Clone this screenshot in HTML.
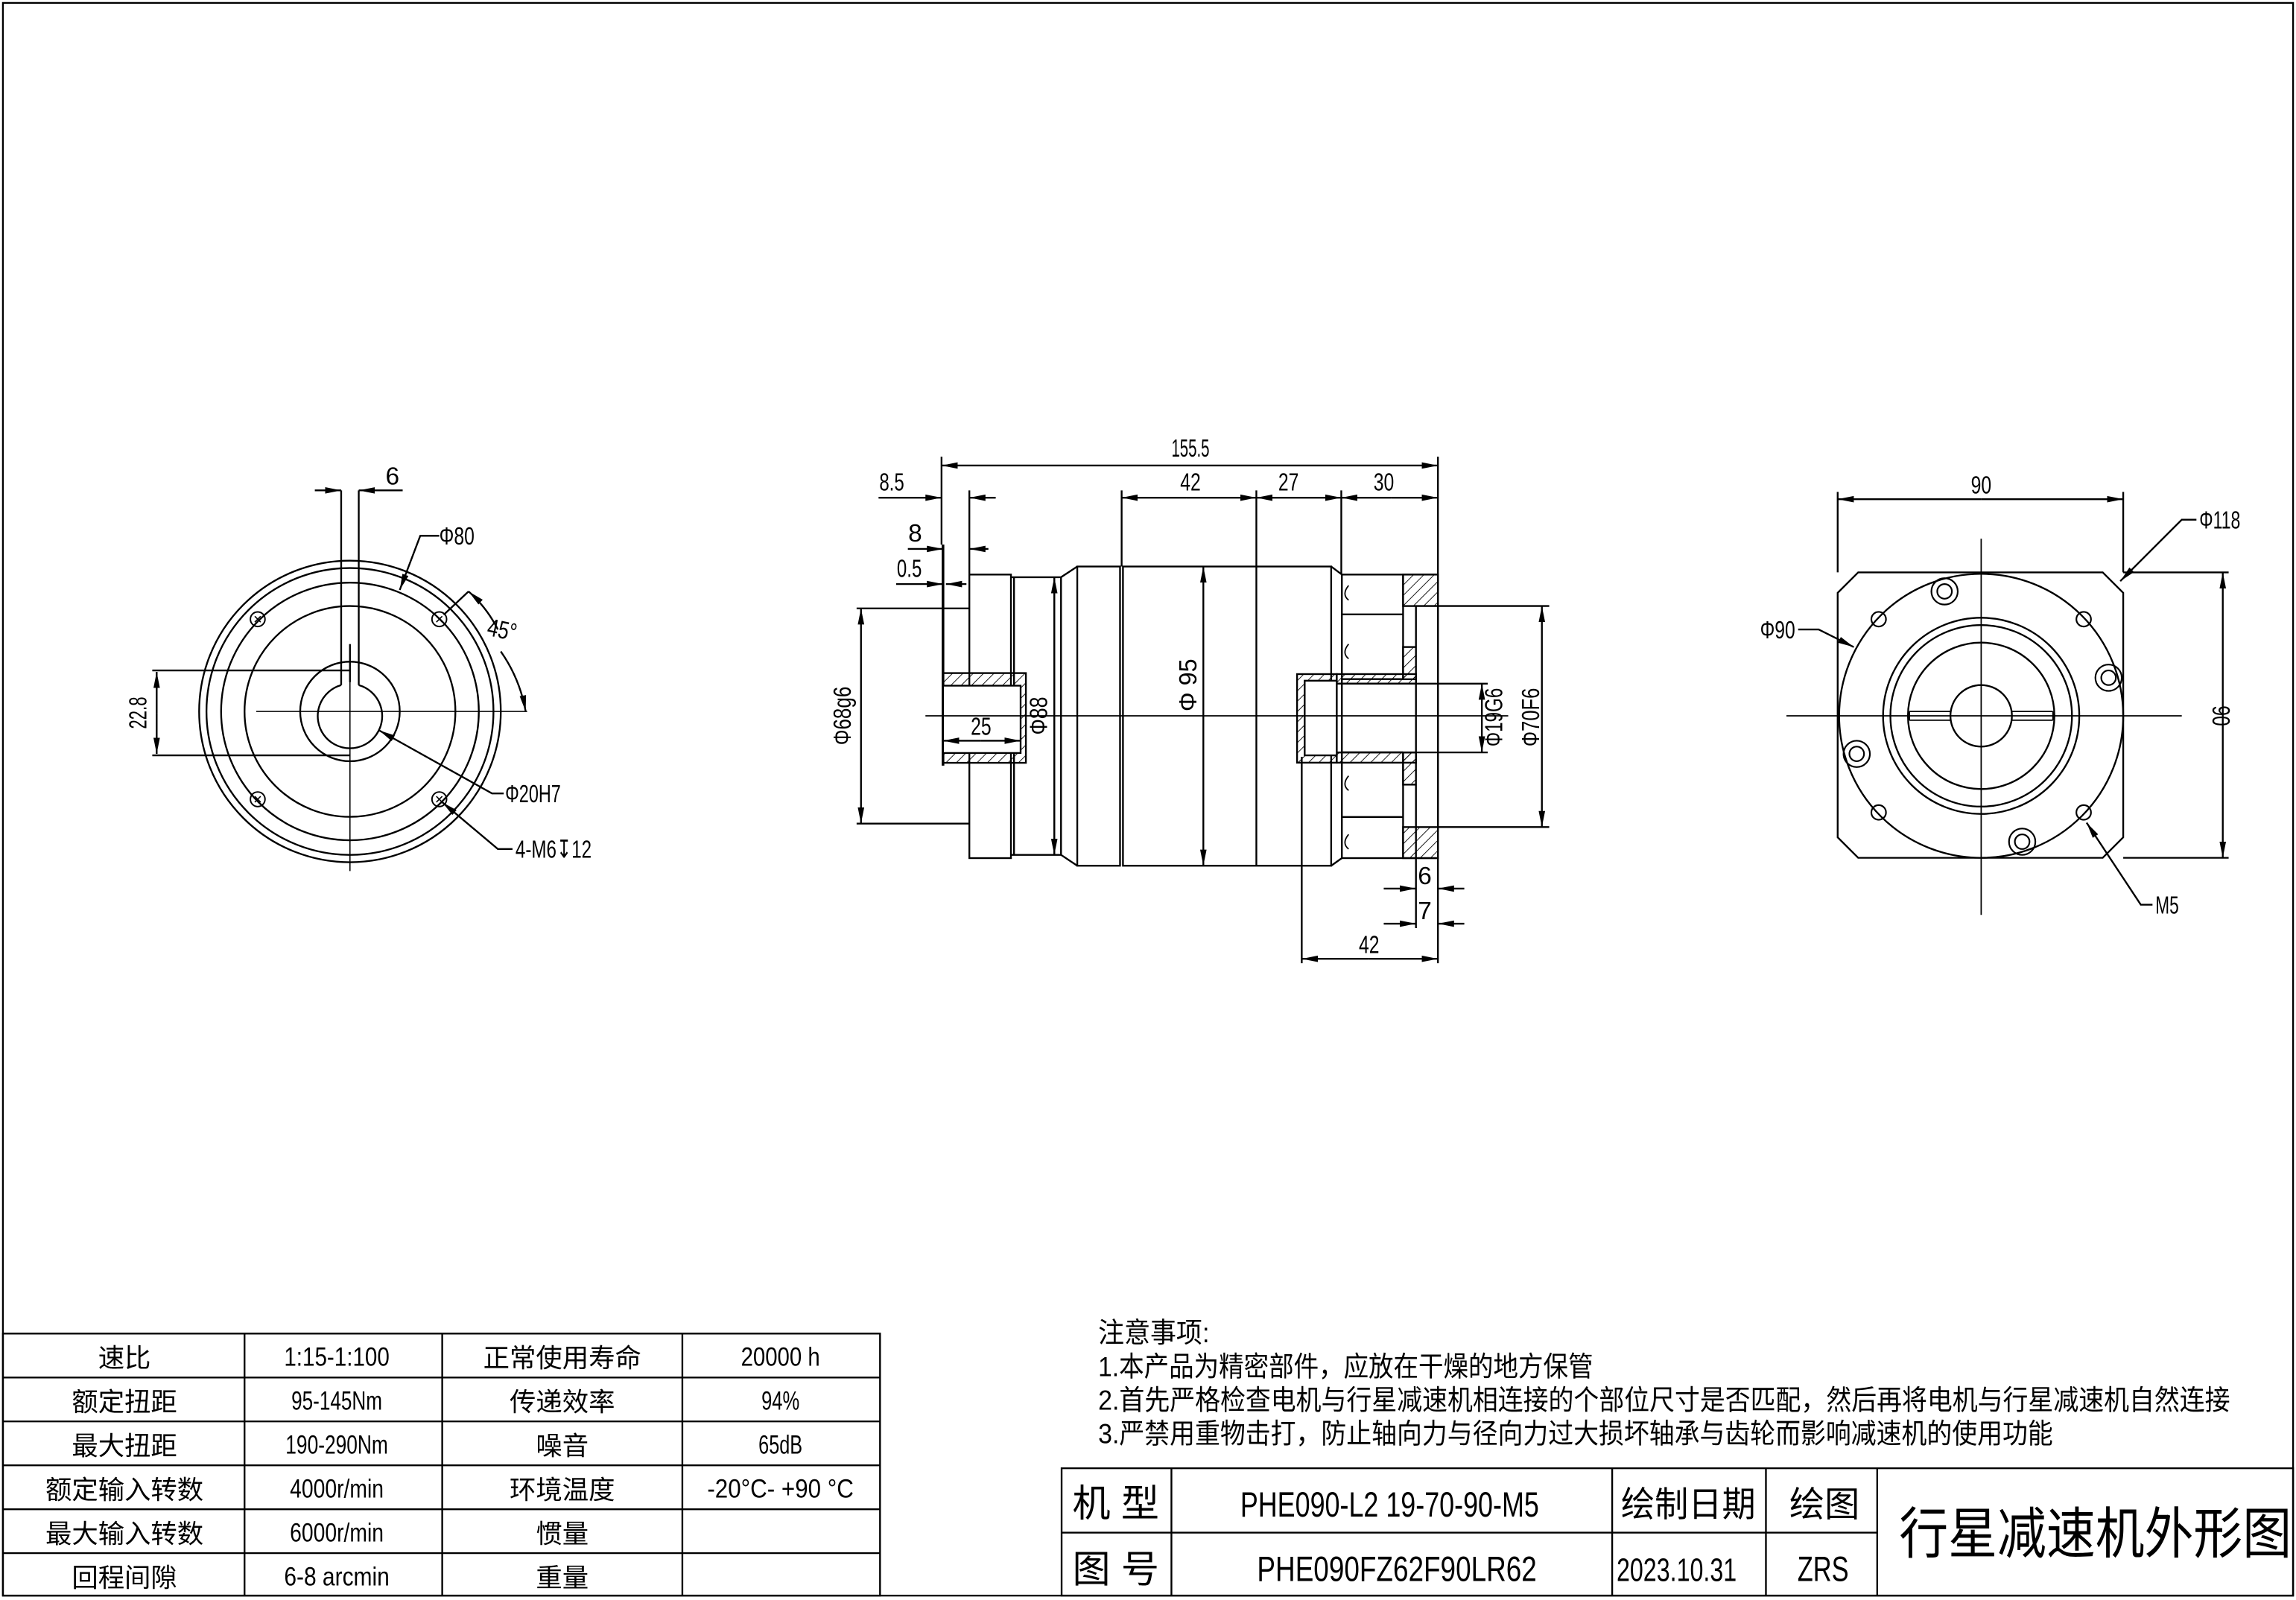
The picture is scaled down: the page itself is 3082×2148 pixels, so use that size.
<!DOCTYPE html>
<html><head><meta charset="utf-8"><style>
html,body{margin:0;padding:0;background:#fff}
svg{display:block}
text{font-family:"Liberation Sans","Noto Sans CJK SC",sans-serif;fill:#000}
</style></head><body>
<svg width="3082" height="2148" viewBox="0 0 1568 1093" preserveAspectRatio="none" xmlns="http://www.w3.org/2000/svg">
<defs>
<marker id="a" markerUnits="userSpaceOnUse" markerWidth="12" markerHeight="6" refX="11" refY="3" orient="auto-start-reverse"><path d="M0,0.8L11,3L0,5.2z" fill="#000"/></marker>
<pattern id="h" patternUnits="userSpaceOnUse" width="5" height="5" patternTransform="rotate(45)"><line x1="0" y1="0" x2="0" y2="5" stroke="#000" stroke-width="0.9"/></pattern>
</defs>
<g fill="none" stroke="#000" stroke-width="1.2">
<rect x="2" y="2" width="1564" height="1088"/>
<circle cx="239" cy="486" r="103"/><circle cx="239" cy="486" r="98"/><circle cx="239" cy="486" r="88"/><circle cx="239" cy="486" r="72"/>
<circle cx="239" cy="486" r="34"/>
<path d="M245,468 A22,22 0 1,1 233,468"/>
<path d="M233,335V468M245,335V468M239,440V466"/>
<g stroke-width="1"><circle cx="176" cy="423" r="5"/><circle cx="300" cy="423" r="5"/><circle cx="176" cy="546" r="5"/><circle cx="300" cy="546" r="5"/></g>
<path d="M174,421l4,4m0-4l-4,4M298,421l4,4m0-4l-4,4M174,544l4,4m0-4l-4,4M298,544l4,4m0-4l-4,4" stroke-width="0.8"/>
<path d="M175,486H360M239,440V595" stroke-width="0.8"/>
<path d="M215,335H233" marker-end="url(#a)"/><path d="M275,335H245" marker-end="url(#a)"/>
<path d="M104,458H239M104,516H239"/><path d="M107,487V459" marker-end="url(#a)"/><path d="M107,487V515" marker-end="url(#a)"/>
<path d="M300,366H287L273,403" marker-end="url(#a)"/>
<path d="M303,420L320,404"/><path d="M340,430A88,88 0 0 0 320,404" marker-end="url(#a)"/><path d="M342,445A103,103 0 0 1 359,486" marker-end="url(#a)"/>
<path d="M344,542H336L259,499" marker-end="url(#a)"/>
<path d="M350,580H340L302,548" marker-end="url(#a)"/>
<path d="M644,372V523" stroke-width="1.8"/>
<rect x="662" y="392.5" width="28.4" height="193.7"/>
<path d="M690.4,394.3H724.6L735.7,387M690.4,584H724.6L735.7,591.4M692.5,394.3V584M720,394.3V584M724.6,394.3V584"/>
<rect x="735.7" y="387" width="29.2" height="204.4"/>
<rect x="766.9" y="387" width="142.2" height="204.4"/>
<path d="M858,387V591.4M909.1,387L916.4,392.5M909.1,591.4L916.4,586.2"/>
<rect x="916.4" y="392.5" width="65.6" height="193.7"/>
<path d="M916.4,419.7H958.2M916.4,463.9H958.2M916.4,513.9H958.2M916.4,558.1H958.2M958.2,392.5V463.9M958.2,513.9V586.2"/>
<path d="M921,400q-5,6 0,10M921,440q-5,6 0,10M921,530q-5,6 0,10M921,570q-5,6 0,10" stroke-width="0.9"/>
<rect x="958.2" y="392.5" width="23.8" height="21.5" fill="url(#h)"/>
<rect x="958.2" y="565" width="23.8" height="21.2" fill="url(#h)"/>
<rect x="958.2" y="442" width="8.8" height="22" fill="url(#h)"/>
<rect x="958.2" y="514" width="8.8" height="22" fill="url(#h)"/>
<rect x="967" y="414" width="15" height="151" fill="#fff"/>
<rect x="912.9" y="460.5" width="54.1" height="6.5" fill="url(#h)"/>
<rect x="912.9" y="514" width="54.1" height="7" fill="url(#h)"/>
<rect x="885.8" y="460.5" width="27.1" height="60.5" fill="url(#h)"/>
<rect x="891" y="465" width="21.9" height="51" fill="#fff"/>
<path d="M912.9,467H1016M912.9,514H1016M982,414H1058M982,565H1058"/>
<rect x="644" y="459.8" width="56.6" height="61.3" fill="url(#h)"/>
<rect x="644" y="468.4" width="53" height="46" fill="#fff"/>
<path d="M632,489H1030" stroke-width="0.9"/>
<path d="M643,312V372M982,312V392M766,335V387M858,335V387M916,335V392M662,335V392"/>
<path d="M813,318H643" marker-end="url(#a)"/><path d="M813,318H982" marker-end="url(#a)"/>
<path d="M810,340H766" marker-end="url(#a)"/><path d="M810,340H858" marker-end="url(#a)"/>
<path d="M885,340H858" marker-end="url(#a)"/><path d="M885,340H916" marker-end="url(#a)"/>
<path d="M950,340H916" marker-end="url(#a)"/><path d="M950,340H982" marker-end="url(#a)"/>
<path d="M600,340H643" marker-end="url(#a)"/><path d="M680,340H662" marker-end="url(#a)"/>
<path d="M620,375H644" marker-end="url(#a)"/><path d="M675,375H662" marker-end="url(#a)"/>
<path d="M612,399H644" marker-end="url(#a)"/><path d="M660,399H646" marker-end="url(#a)"/>
<path d="M585,415.6H662M585,562.6H662"/>
<path d="M588,489V415.6" marker-end="url(#a)"/><path d="M588,489V562.6" marker-end="url(#a)"/>
<path d="M720,489V394.3" marker-end="url(#a)"/><path d="M720,489V584" marker-end="url(#a)"/>
<path d="M821.8,489V387" marker-end="url(#a)"/><path d="M821.8,489V591.4" marker-end="url(#a)"/>
<path d="M670,506H644" marker-end="url(#a)"/><path d="M670,506H697" marker-end="url(#a)"/>
<path d="M1012,490V467" marker-end="url(#a)"/><path d="M1012,490V514" marker-end="url(#a)"/>
<path d="M1053,490V414" marker-end="url(#a)"/><path d="M1053,490V565" marker-end="url(#a)"/>
<path d="M889,517V658M982,586V658M967,565V634"/>
<path d="M935,655H889" marker-end="url(#a)"/><path d="M935,655H982" marker-end="url(#a)"/>
<path d="M945,607H967" marker-end="url(#a)"/><path d="M1000,607H982" marker-end="url(#a)"/>
<path d="M945,631H967" marker-end="url(#a)"/><path d="M1000,631H982" marker-end="url(#a)"/>
<path d="M1269,391H1436L1450,405V572L1436,586H1269L1255,572V405Z"/>
<circle cx="1353" cy="489" r="97"/>
<circle cx="1353" cy="489" r="67"/><circle cx="1353" cy="489" r="62"/><circle cx="1353" cy="489" r="50"/>
<circle cx="1353" cy="489" r="21"/>
<path d="M1304,486H1332M1374,486H1402M1304,492H1332M1374,492H1402M1304,486V492M1402,486V492" stroke-width="0.9"/>
<g stroke-width="1.1"><circle cx="1283" cy="423" r="5"/><circle cx="1423" cy="423" r="5"/><circle cx="1283" cy="555" r="5"/><circle cx="1423" cy="555" r="5"/>
<circle cx="1328" cy="404" r="9"/><circle cx="1328" cy="404" r="5"/>
<circle cx="1440" cy="463" r="9"/><circle cx="1440" cy="463" r="5"/>
<circle cx="1268" cy="515" r="9"/><circle cx="1268" cy="515" r="5"/>
<circle cx="1381" cy="575" r="9"/><circle cx="1381" cy="575" r="5"/></g>
<path d="M1220,489H1490M1353,368V625" stroke-width="0.9"/>
<path d="M1255,336V391M1450,336V391M1450,391H1522M1450,586H1522"/>
<path d="M1353,341H1255" marker-end="url(#a)"/><path d="M1353,341H1450" marker-end="url(#a)"/>
<path d="M1518,489V391" marker-end="url(#a)"/><path d="M1518,489V586" marker-end="url(#a)"/>
<path d="M1500,355H1490L1448,397" marker-end="url(#a)"/>
<path d="M1228,430H1242L1266,442" marker-end="url(#a)"/>
<path d="M1470,618H1462L1425,562" marker-end="url(#a)"/>
<rect x="2" y="911" width="599" height="179"/>
<path d="M2,941H601M2,971H601M2,1001H601M2,1031H601M2,1061H601M167,911V1090M302,911V1090M466,911V1090"/>
<rect x="725" y="1003" width="841" height="87"/>
<path d="M725,1047H1282M800,1003V1090M1101,1003V1090M1206,1003V1090M1282,1003V1090"/>
</g>
<g font-size="17" lengthAdjust="spacingAndGlyphs">
<text x="268" y="331" text-anchor="middle">6</text>
<text x="300" y="372" textLength="24" lengthAdjust="spacingAndGlyphs">Φ80</text>
<text x="343" y="436" transform="rotate(12 343 430)" text-anchor="middle" textLength="20" lengthAdjust="spacingAndGlyphs">45°</text>
<text x="345" y="548" textLength="38" lengthAdjust="spacingAndGlyphs">Φ20H7</text>
<text x="352" y="586" textLength="52" lengthAdjust="spacingAndGlyphs">4-M6↧12</text>
<text transform="translate(100,487) rotate(-90)" text-anchor="middle" textLength="22" lengthAdjust="spacingAndGlyphs">22.8</text>
<text x="813" y="312" text-anchor="middle" textLength="26" lengthAdjust="spacingAndGlyphs">155.5</text>
<text x="813" y="335" text-anchor="middle" textLength="14" lengthAdjust="spacingAndGlyphs">42</text>
<text x="880" y="335" text-anchor="middle" textLength="14" lengthAdjust="spacingAndGlyphs">27</text>
<text x="945" y="335" text-anchor="middle" textLength="14" lengthAdjust="spacingAndGlyphs">30</text>
<text x="609" y="335" text-anchor="middle" textLength="17" lengthAdjust="spacingAndGlyphs">8.5</text>
<text x="625" y="370" text-anchor="middle">8</text>
<text x="621" y="394" text-anchor="middle" textLength="17" lengthAdjust="spacingAndGlyphs">0.5</text>
<text transform="translate(581,489) rotate(-90)" text-anchor="middle" textLength="40" lengthAdjust="spacingAndGlyphs">Φ68g6</text>
<text x="670" y="502" text-anchor="middle" textLength="14" lengthAdjust="spacingAndGlyphs">25</text>
<text transform="translate(715,489) rotate(-90)" text-anchor="middle" textLength="26" lengthAdjust="spacingAndGlyphs">Φ88</text>
<text transform="translate(817,468) rotate(-90)" text-anchor="middle" textLength="36" lengthAdjust="spacingAndGlyphs">Φ 95</text>
<text transform="translate(1026,490) rotate(-90)" text-anchor="middle" textLength="40" lengthAdjust="spacingAndGlyphs">Φ19G6</text>
<text transform="translate(1051,490) rotate(-90)" text-anchor="middle" textLength="40" lengthAdjust="spacingAndGlyphs">Φ70F6</text>
<text x="973" y="604" text-anchor="middle">6</text>
<text x="973" y="628" text-anchor="middle">7</text>
<text x="935" y="651" text-anchor="middle" textLength="14" lengthAdjust="spacingAndGlyphs">42</text>
<text x="1353" y="337" text-anchor="middle" textLength="14" lengthAdjust="spacingAndGlyphs">90</text>
<text transform="translate(1511,489) rotate(90)" text-anchor="middle" textLength="14" lengthAdjust="spacingAndGlyphs">90</text>
<text x="1502" y="361" textLength="28" lengthAdjust="spacingAndGlyphs">Φ118</text>
<text x="1202" y="436" textLength="24" lengthAdjust="spacingAndGlyphs">Φ90</text>
<text x="1472" y="624" textLength="16" lengthAdjust="spacingAndGlyphs">M5</text>
</g>
<g font-size="18" text-anchor="middle">
<text x="85" y="934">速比</text><text x="230" y="933" textLength="72" lengthAdjust="spacingAndGlyphs">1:15-1:100</text><text x="384" y="934">正常使用寿命</text><text x="533" y="933" textLength="54" lengthAdjust="spacingAndGlyphs">20000 h</text>
<text x="85" y="964">额定扭距</text><text x="230" y="963" textLength="62" lengthAdjust="spacingAndGlyphs">95-145Nm</text><text x="384" y="964">传递效率</text><text x="533" y="963" textLength="26" lengthAdjust="spacingAndGlyphs">94%</text>
<text x="85" y="994">最大扭距</text><text x="230" y="993" textLength="70" lengthAdjust="spacingAndGlyphs">190-290Nm</text><text x="384" y="994">噪音</text><text x="533" y="993" textLength="30" lengthAdjust="spacingAndGlyphs">65dB</text>
<text x="85" y="1024">额定输入转数</text><text x="230" y="1023" textLength="64" lengthAdjust="spacingAndGlyphs">4000r/min</text><text x="384" y="1024">环境温度</text><text x="533" y="1023" textLength="100" lengthAdjust="spacingAndGlyphs">-20°C- +90 °C</text>
<text x="85" y="1054">最大输入转数</text><text x="230" y="1053" textLength="64" lengthAdjust="spacingAndGlyphs">6000r/min</text><text x="384" y="1054">惯量</text>
<text x="85" y="1084">回程间隙</text><text x="230" y="1083" textLength="72" lengthAdjust="spacingAndGlyphs">6-8 arcmin</text><text x="384" y="1084">重量</text>
</g>
<g font-size="19">
<text x="750" y="917" textLength="76" lengthAdjust="spacingAndGlyphs">注意事项:</text>
<text x="750" y="940" textLength="338" lengthAdjust="spacingAndGlyphs">1.本产品为精密部件，应放在干燥的地方保管</text>
<text x="750" y="963" textLength="773" lengthAdjust="spacingAndGlyphs">2.首先严格检查电机与行星减速机相连接的个部位尺寸是否匹配，然后再将电机与行星减速机自然连接</text>
<text x="750" y="986" textLength="652" lengthAdjust="spacingAndGlyphs">3.严禁用重物击打，防止轴向力与径向力过大损坏轴承与齿轮而影响减速机的使用功能</text>
</g>
<g text-anchor="middle">
<text x="762" y="1036" font-size="26">机 型</text>
<text x="762" y="1081" font-size="26">图 号</text>
<text x="949" y="1036" font-size="24" textLength="204" lengthAdjust="spacingAndGlyphs">PHE090-L2 19-70-90-M5</text>
<text x="954" y="1080" font-size="24" textLength="191" lengthAdjust="spacingAndGlyphs">PHE090FZ62F90LR62</text>
<text x="1153" y="1036" font-size="24" textLength="92" lengthAdjust="spacingAndGlyphs">绘制日期</text>
<text x="1145" y="1080" font-size="22" textLength="82" lengthAdjust="spacingAndGlyphs">2023.10.31</text>
<text x="1246" y="1036" font-size="24">绘图</text>
<text x="1245" y="1080" font-size="24" textLength="35" lengthAdjust="spacingAndGlyphs">ZRS</text>
<text x="1431" y="1061" font-size="38" textLength="268" lengthAdjust="spacingAndGlyphs">行星减速机外形图</text>
</g>
</svg>
</body></html>
